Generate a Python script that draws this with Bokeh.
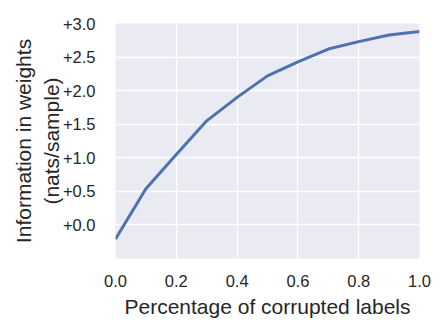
from bokeh.plotting import figure
from bokeh.models import Range1d, FixedTicker
from bokeh.embed import file_html
from bokeh.resources import INLINE

# Data
corruption = [0.0, 0.1, 0.2, 0.3, 0.4, 0.5, 0.6, 0.7, 0.8, 0.9, 1.0]
information = [-0.21, 0.54, 1.05, 1.55, 1.90, 2.22, 2.43, 2.62, 2.73, 2.83, 2.88]

x_ticks = [0.0, 0.2, 0.4, 0.6, 0.8, 1.0]
x_tick_labels = ["0.0", "0.2", "0.4", "0.6", "0.8", "1.0"]
y_ticks = [0.0, 0.5, 1.0, 1.5, 2.0, 2.5, 3.0]
y_tick_labels = ["+0.0", "+0.5", "+1.0", "+1.5", "+2.0", "+2.5", "+3.0"]

FONT = "Liberation Sans"
TEXT = "#262626"

p = figure(width=447, height=334, output_backend="svg", toolbar_location=None,
           x_range=Range1d(0.0, 1.0), y_range=Range1d(-0.5, 3.0),
           min_border_left=115, min_border_right=28, min_border_top=23, min_border_bottom=76)

p.background_fill_color = "#EAEAF2"
p.border_fill_color = "white"
p.outline_line_color = None

p.line(corruption, information, line_color="#4C72B0", line_width=3)

for ax in (p.xaxis, p.yaxis):
    ax.axis_line_color = None
    ax.major_tick_line_color = None
    ax.minor_tick_line_color = None
    ax.major_label_text_font = FONT
    ax.major_label_text_font_size = "16.5px"
    ax.major_label_text_color = TEXT
    ax.axis_label_text_font = FONT
    ax.axis_label_text_font_size = "21px"
    ax.axis_label_text_font_style = "normal"
    ax.axis_label_text_color = TEXT

p.xaxis.ticker = FixedTicker(ticks=x_ticks)
p.xaxis.major_label_overrides = dict(zip(x_ticks, x_tick_labels))
p.yaxis.ticker = FixedTicker(ticks=y_ticks)
p.yaxis.major_label_overrides = dict(zip(y_ticks, y_tick_labels))

p.xaxis.axis_label = "Percentage of corrupted labels"
p.yaxis.axis_label = "Information in weights\n(nats/sample)"
p.xaxis.major_label_standoff = 10
p.yaxis.major_label_standoff = 14
p.xaxis.axis_label_standoff = 5
p.yaxis.axis_label_standoff = -3

p.xgrid.grid_line_color = "white"
p.ygrid.grid_line_color = "white"
p.xgrid.grid_line_width = 1.3
p.ygrid.grid_line_width = 1.3
p.xgrid.ticker = FixedTicker(ticks=x_ticks)
p.ygrid.ticker = FixedTicker(ticks=y_ticks)

open("out.html", "w").write(file_html(p, INLINE))
